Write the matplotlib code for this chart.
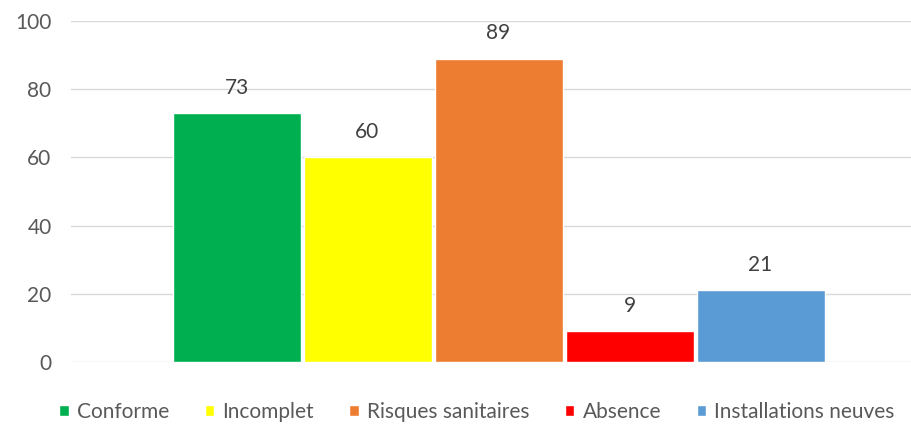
import numpy as np
import matplotlib.pyplot as plt

categories = ["Conforme", "Incomplet", "Risques sanitaires", "Absence", "Installations neuves"]
values = [73, 60, 89, 9, 21]
colors = ["#00B050", "#FFFF00", "#ED7D31", "#FF0000", "#5B9BD5"]

plt.rcParams['font.family'] = ['Lato', 'DejaVu Sans']

fig = plt.figure(figsize=(9.11, 4.25), dpi=100)
# plot area runs past the right edge like in the original
ax = fig.add_axes([71/911, 63/425, 855/911, 341/425])

pitch = 131/855
width = 128/855
x = (np.arange(len(values)) - 2) * pitch
for xi, v, c, name in zip(x, values, colors, categories):
    ax.bar(xi, v, width=width, color=c, edgecolor="white", linewidth=1, label=name, zorder=3)
    ax.annotate(str(v), (xi, v), xytext=(0, 14), textcoords="offset points",
                ha="center", va="baseline", fontsize=15, color="#404040")

ax.set_xlim(-0.5, 0.5)
ax.set_ylim(0, 100)
ax.set_yticks([0, 20, 40, 60, 80, 100])
ax.set_xticks([])
ax.yaxis.grid(True, color="#d9d9d9", linewidth=1.0)
ax.set_axisbelow(True)
for s in ax.spines.values():
    s.set_visible(False)
ax.tick_params(axis="y", length=0, pad=14, labelsize=15, labelcolor="#595959")

fig.legend(loc="center", bbox_to_anchor=(477/911, 1 - 412/425), ncol=5, frameon=False,
           fontsize=15, handlelength=0.45, handleheight=0.45, handletextpad=0.4,
           columnspacing=1.7, labelcolor="#595959")

plt.savefig("out.png", dpi=100)
